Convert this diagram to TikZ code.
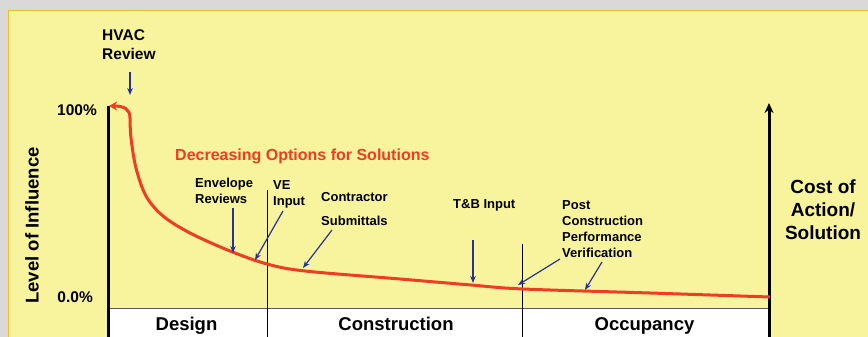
\documentclass[tikz,border=0pt]{standalone}
\usepackage{fontspec}
\setmainfont{Liberation Sans}
\usetikzlibrary{arrows.meta, positioning}

\definecolor{backgrey}{RGB}{217,217,217}
\definecolor{panel}{HTML}{F8F39D}
\definecolor{panelrim}{RGB}{240,190,40}
\definecolor{curvered}{RGB}{240,60,35}
\definecolor{arrowblue}{RGB}{40,50,150}

\tikzset{
    lbl/.style={font=\bfseries\fontsize{13}{16}\selectfont, inner sep=0pt, align=left, anchor=north west},
    pct/.style={font=\bfseries\fontsize{15.5}{19}\selectfont, inner sep=0pt},
    phase/.style={font=\bfseries\fontsize{18.5}{22}\selectfont, inner sep=0pt, anchor=base},
    pointer/.style={draw=arrowblue, line width=1.2pt, -{Stealth[length=7pt, width=5.5pt]}},
    influence/.style={draw=curvered, line width=3pt, -{Stealth[length=8pt, width=9pt]}},
}

\begin{document}
\begin{tikzpicture}[x=1pt, y=-1pt]
    \useasboundingbox (0,0) rectangle (868,337);
    \fill[backgrey] (0,0) rectangle (868,337);
    \fill[panel] (8,11) rectangle (868,337);
    \draw[panelrim, line width=1pt] (8,337) -- (8,11) -- (868,11);

    \fill[white] (108,308) rectangle (769,337);
    \draw[black!65, line width=1pt] (108,308) -- (769,308);

    \coordinate (design-top) at (267,190);
    \coordinate (design-end) at (267,337);
    \coordinate (build-top) at (522,244);
    \coordinate (build-end) at (522,337);
    \draw[line width=0.8pt] (design-top) -- (design-end);
    \draw[line width=0.8pt] (build-top) -- (build-end);

    \coordinate (influence-top) at (108,106);
    \coordinate (influence-base) at (108,337);
    \coordinate (cost-top) at (769,103);
    \coordinate (cost-base) at (769,337);
    \draw[line width=3pt] (influence-top) -- (influence-base);
    \draw[line width=3pt, -{Stealth[length=10pt, width=9pt]}] (cost-base) -- (cost-top);

    \draw[influence] plot[smooth, tension=0.55] coordinates {(770,297) (650,293) (523,289) (471,285) (400,279) (305,271) (267,264) (230,251) (190,233) (163,216) (146,196) (136,168) (131,138) (130,118)}
        .. controls (130,109) and (124,106) .. (109,106);

    \node[pct, anchor=base east] (hundred) at (97,115.5) {100\%};
    \node[pct, anchor=base east] (zero) at (93,302) {0.0\%};
    \node[pct, font=\bfseries\fontsize{18.5}{22}\selectfont, rotate=90] (level) at (32,225.5) {Level of Influence};

    \node[lbl, font=\bfseries\fontsize{15.5}{19}\selectfont] (hvac) at (102,29) {HVAC\\Review};
    \node[lbl, font=\bfseries\fontsize{16}{19}\selectfont, text=curvered] (options) at (175,149) {Decreasing Options for Solutions};
    \node[lbl] (envelope) at (195,178) {Envelope\\Reviews};
    \node[lbl] (ve) at (273,180) {VE\\Input};
    \node[lbl] (contractor) at (321,192) {Contractor\\[8pt]Submittals};
    \node[lbl] (tb) at (453,199) {T\&B Input};
    \node[lbl] (post) at (562,200) {Post\\Construction\\Performance\\Verification};
    \node[pct, font=\bfseries\fontsize{19}{23}\selectfont, align=center, anchor=north] (cost) at (823,180) {Cost of\\Action/\\Solution};

    \node[phase] (design) at (186.5,330) {Design};
    \node[phase] (construction) at (396,330) {Construction};
    \node[phase] (occupancy) at (644.5,330) {Occupancy};

    \coordinate (hvac-from) at (130,72);
    \coordinate (hvac-to) at (130,95);
    \coordinate (envelope-from) at (233,208);
    \coordinate (envelope-to) at (233,253);
    \coordinate (ve-from) at (283,211);
    \coordinate (ve-to) at (255,260);
    \coordinate (contractor-from) at (332,230);
    \coordinate (contractor-to) at (303,268);
    \coordinate (tb-from) at (473,240);
    \coordinate (tb-to) at (473,283);
    \coordinate (post-from-a) at (560,259);
    \coordinate (post-to-a) at (518,285);
    \coordinate (post-from-b) at (602,262);
    \coordinate (post-to-b) at (585,290);

    \draw[pointer] (hvac-from) -- (hvac-to);
    \draw[pointer] (envelope-from) -- (envelope-to);
    \draw[pointer] (ve-from) -- (ve-to);
    \draw[pointer] (contractor-from) -- (contractor-to);
    \draw[pointer] (tb-from) -- (tb-to);
    \draw[pointer] (post-from-a) -- (post-to-a);
    \draw[pointer] (post-from-b) -- (post-to-b);
\end{tikzpicture}
\end{document}
